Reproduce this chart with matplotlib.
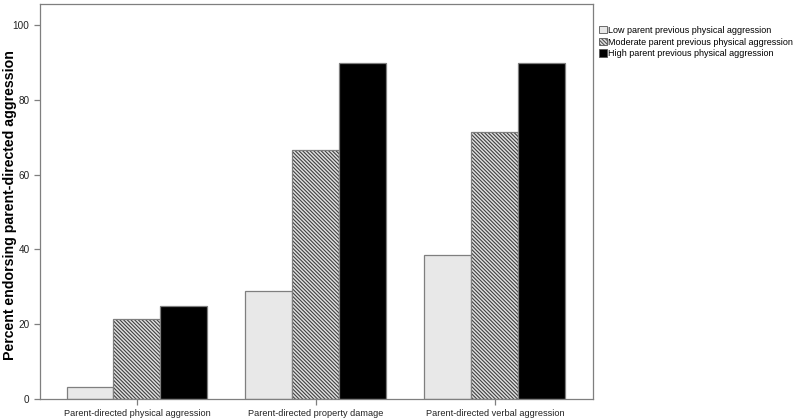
import numpy as np
import matplotlib
matplotlib.use("Agg")
import matplotlib.pyplot as plt

plt.rcParams["font.family"] = ["Liberation Sans", "DejaVu Sans"]
plt.rcParams["hatch.linewidth"] = 0.8

categories = ["Parent-directed physical aggression",
              "Parent-directed property damage",
              "Parent-directed verbal aggression"]
series_names = ["Low parent previous physical aggression",
                "Moderate parent previous physical aggression",
                "High parent previous physical aggression"]
low = [3.3, 29.0, 38.6]
moderate = [21.4, 66.7, 71.5]
high = [25.0, 90.0, 90.0]

fig = plt.figure(figsize=(8, 4.2), dpi=100)
ax = fig.add_axes([0.05, 0.05, 0.691, 0.94])

x = np.arange(len(categories))
w = 0.2626
frame = "#7f7f7f"
ax.bar(x - w, low, w, color="#e8e8e8", edgecolor=frame, linewidth=0.9,
       label=series_names[0])
ax.bar(x, moderate, w, color="#e0e0e0", edgecolor="#404040", hatch="\\" * 9,
       linewidth=0.0, label=series_names[1])
ax.bar(x, moderate, w, color="none", edgecolor=frame, linewidth=0.9)
ax.bar(x + w, high, w, color="black", edgecolor=frame, linewidth=0.9,
       label=series_names[2])

ax.set_xlim(-0.542, 2.547)
ax.set_ylim(0, 105.6)
ax.set_yticks([0, 20, 40, 60, 80, 100])
ax.set_xticks(x)
ax.set_xticklabels(categories, fontsize=6.6)
ax.tick_params(axis="both", colors=frame, labelcolor="#222222",
               length=4, width=0.9)
ax.tick_params(axis="y", labelsize=7.2)
for s in ax.spines.values():
    s.set_color(frame)
    s.set_linewidth(0.9)
ax.set_ylabel("Percent endorsing parent-directed aggression", fontsize=10.2,
              fontweight="bold")
ax.yaxis.set_label_coords(-0.041, 0.49)

leg = ax.legend(loc="upper left", bbox_to_anchor=(1.0, 0.96), frameon=False,
                fontsize=6.5, handlelength=0.9, handleheight=0.9,
                handletextpad=0.15, labelspacing=0.3, borderaxespad=0.25)
for h in leg.legend_handles:
    h.set_edgecolor("#555555")
    h.set_linewidth(0.6)

fig.savefig("out.png", dpi=100, facecolor="white")
